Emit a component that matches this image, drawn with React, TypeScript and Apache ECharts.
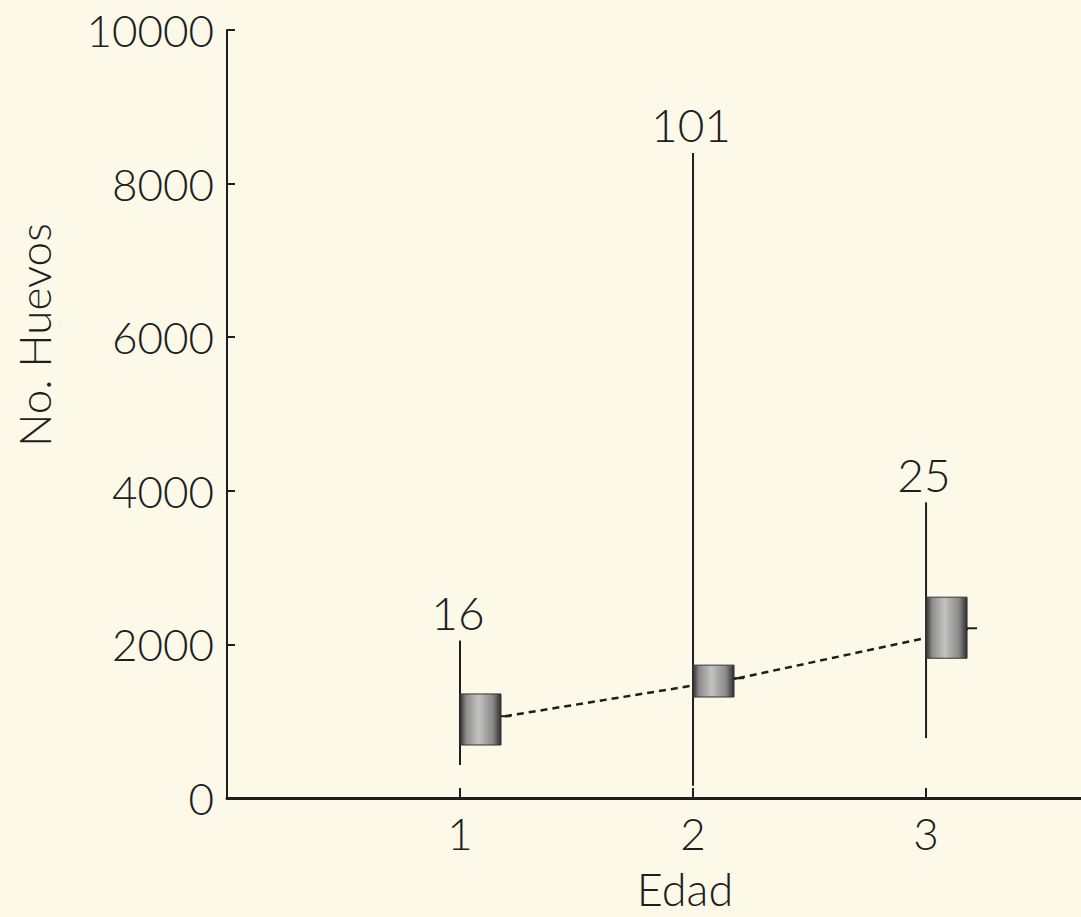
import React, { useEffect, useRef } from 'react';
import * as echarts from 'echarts';

const ages = [1, 2, 3];
const sampleSizes = ['16', '101', '25'];
const maxValues = [2050, 8400, 3850];
const minValues = [430, 160, 780];
const boxLower = [690, 1315, 1820];
const boxUpper = [1355, 1730, 2615];
const meanValues = [1065, 1560, 2210];

const FONT = "Lato, 'Open Sans', sans-serif";
const INK = '#1e1e1e';
const BOX_W = 41;

export default function App() {
  const ref = useRef<HTMLDivElement>(null);
  useEffect(() => {
    const chart = echarts.init(ref.current!, null, { renderer: 'svg' });
    const data = ages.map((a, i) => [a, minValues[i], maxValues[i], boxLower[i], boxUpper[i], meanValues[i]]);
    const boxFill = new echarts.graphic.LinearGradient(0, 0, 1, 0, [
      { offset: 0, color: '#303030' },
      { offset: 0.15, color: '#8c8c8c' },
      { offset: 0.45, color: '#c2c2c0' },
      { offset: 0.8, color: '#8a8a8a' },
      { offset: 1, color: '#2e2e2e' },
    ]);
    chart.setOption({
      animation: false,
      backgroundColor: '#fcf9e9',
      grid: { left: 227, right: 0, top: 30, bottom: 119 },
      xAxis: {
        type: 'value',
        min: 0,
        max: 3.665,
        interval: 1,
        name: 'Edad',
        nameLocation: 'middle',
        nameGap: 68,
        nameTextStyle: {
          fontSize: 45,
          lineHeight: 45,
          fontFamily: FONT,
          fontWeight: 300,
          color: INK,
          padding: [0, 0, 0, 62],
        },
        axisLine: { show: true, onZero: false, lineStyle: { color: INK, width: 3 } },
        axisTick: { show: true, inside: true, length: 10, lineStyle: { color: INK, width: 2 } },
        axisLabel: {
          fontSize: 44,
          lineHeight: 44,
          fontFamily: FONT,
          fontWeight: 300,
          color: INK,
          margin: 13,
          showMaxLabel: false,
          formatter: (v: number) => (v === 0 ? '' : String(v)),
        },
        splitLine: { show: false },
      },
      yAxis: {
        type: 'value',
        min: 0,
        max: 10000,
        interval: 2000,
        name: 'No. Huevos',
        nameLocation: 'middle',
        nameRotate: 90,
        nameGap: 171,
        nameTextStyle: { fontSize: 44, fontFamily: FONT, fontWeight: 300, color: INK, padding: [0, 0, 0, 158] },
        axisLine: { show: true, lineStyle: { color: INK, width: 2 } },
        axisTick: { show: true, inside: true, length: 8, lineStyle: { color: INK, width: 2 } },
        axisLabel: {
          fontSize: 44,
          fontFamily: FONT,
          fontWeight: 300,
          color: INK,
          margin: 13,
          formatter: (v: number) => String(v),
        },
        splitLine: { show: false },
      },
      series: [
        {
          type: 'custom',
          z: 2,
          clip: false,
          data,
          encode: { x: 0, y: [1, 2] },
          renderItem: (params: any, api: any) => {
            const i = params.dataIndex;
            if (i >= ages.length - 1) return { type: 'group', children: [] };
            const p0 = api.coord([ages[i], meanValues[i]]);
            const p1 = api.coord([ages[i + 1], meanValues[i + 1]]);
            return {
              type: 'line',
              shape: { x1: p0[0] + BOX_W + 4, y1: p0[1], x2: p1[0] + BOX_W + 4, y2: p1[1] },
              style: { stroke: INK, lineWidth: 2.5, lineDash: [7, 5] },
            };
          },
        },
        {
          type: 'custom',
          z: 3,
          clip: false,
          data,
          encode: { x: 0, y: [1, 2, 3, 4, 5] },
          renderItem: (params: any, api: any) => {
            const i = params.dataIndex;
            const x = api.value(0);
            const lo = api.coord([x, api.value(1)]);
            const hi = api.coord([x, api.value(2)]);
            const bl = api.coord([x, api.value(3)]);
            const bu = api.coord([x, api.value(4)]);
            const mn = api.coord([x, api.value(5)]);
            return {
              type: 'group',
              children: [
                { type: 'line', shape: { x1: lo[0], y1: lo[1], x2: hi[0], y2: hi[1] }, style: { stroke: INK, lineWidth: 2 } },
                {
                  type: 'rect',
                  shape: { x: bl[0], y: bu[1], width: BOX_W, height: bl[1] - bu[1] },
                  style: { fill: boxFill, stroke: '#333', lineWidth: 1 },
                },
                {
                  type: 'line',
                  shape: { x1: bl[0] + BOX_W, y1: mn[1], x2: bl[0] + BOX_W + 10, y2: mn[1] },
                  style: { stroke: INK, lineWidth: 2 },
                },
                {
                  type: 'text',
                  style: {
                    text: sampleSizes[i],
                    x: hi[0] - 2,
                    y: hi[1] - 28,
                    align: 'center',
                    verticalAlign: 'middle',
                    fontSize: 46,
                    fontFamily: FONT,
                    fontWeight: 300,
                    fill: INK,
                  },
                },
              ],
            };
          },
        },
      ],
    });
    return () => chart.dispose();
  }, []);
  return <div ref={ref} style={{ position: 'fixed', left: 0, top: 0, width: 1081, height: 917 }} />;
}
